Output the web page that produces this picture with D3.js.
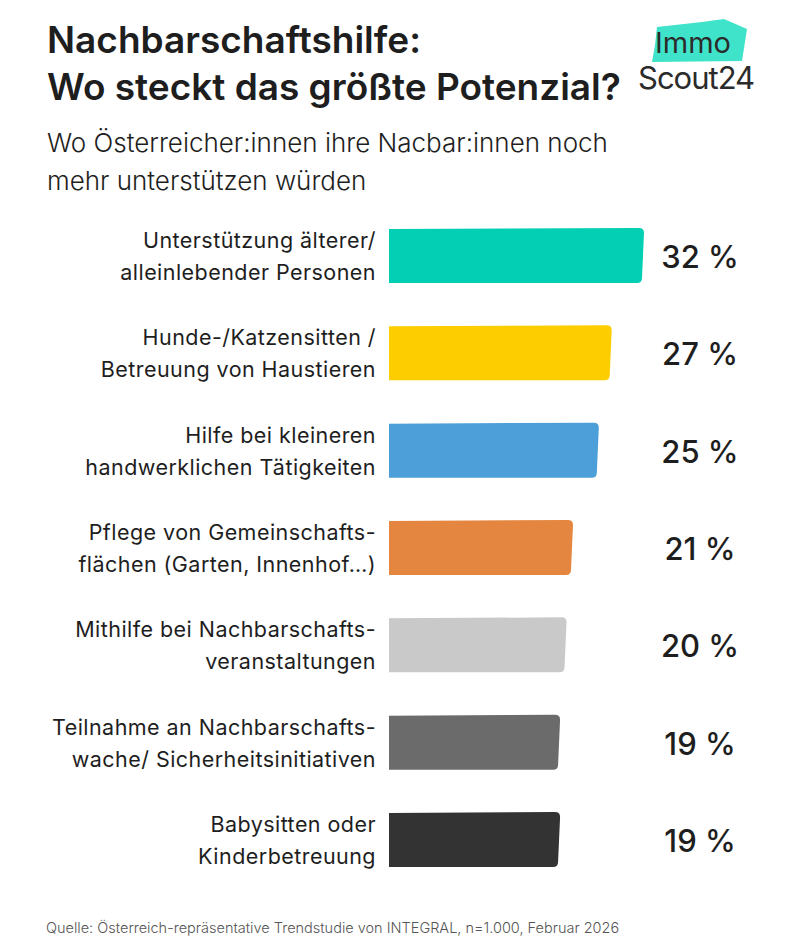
<!DOCTYPE html>
<html>
<head>
<meta charset="utf-8">
<script src="https://cdn.jsdelivr.net/npm/d3@7/dist/d3.min.js"></script>
<style>
  body { margin: 0; background: #fff; }
  svg { display: block; font-family: Inter, "Noto Sans", sans-serif; }
</style>
</head>
<body>
<script>
// data
var categories = [
  "Unterstützung älterer/alleinlebender Personen",
  "Hunde-/Katzensitten / Betreuung von Haustieren",
  "Hilfe bei kleineren handwerklichen Tätigkeiten",
  "Pflege von Gemeinschaftsflächen (Garten, Innenhof…)",
  "Mithilfe bei Nachbarschaftsveranstaltungen",
  "Teilnahme an Nachbarschaftswache/ Sicherheitsinitiativen",
  "Babysitten oder Kinderbetreuung"
];
var labelLines = [
  ["Unterstützung älterer/", "alleinlebender Personen"],
  ["Hunde-/Katzensitten /", "Betreuung von Haustieren"],
  ["Hilfe bei kleineren", "handwerklichen Tätigkeiten"],
  ["Pflege von Gemeinschafts-", "flächen (Garten, Innenhof…)"],
  ["Mithilfe bei Nachbarschafts-", "veranstaltungen"],
  ["Teilnahme an Nachbarschafts-", "wache/ Sicherheitsinitiativen"],
  ["Babysitten oder", "Kinderbetreuung"]
];
var values = [32, 27, 25, 21, 20, 19, 19];
var barColors = ["#02cfb3", "#fecd00", "#4c9fd8", "#e48640", "#c9c9c9", "#6b6b6b", "#333333"];

var title = ["Nachbarschaftshilfe:", "Wo steckt das größte Potenzial?"];
var subtitle = ["Wo Österreicher:innen ihre Nacbar:innen noch", "mehr unterstützen würden"];
var source = "Quelle: Österreich-repräsentative Trendstudie von INTEGRAL, n=1.000, Februar 2026";

var width = 800, height = 950;
var barLeft = 389;

var svg = d3.select("body").append("svg")
    .attr("width", width)
    .attr("height", height);

// title + subtitle
svg.selectAll("text.title")
    .data(title)
  .enter().append("text")
    .attr("class", "title")
    .attr("x", 47)
    .attr("y", function(d, i) { return 53 + i * 47; })
    .style("font-size", "37px")
    .style("font-weight", 600)
    .style("fill", "#1e1e1e")
    .text(function(d) { return d; });

svg.selectAll("text.sub")
    .data(subtitle)
  .enter().append("text")
    .attr("class", "sub")
    .attr("x", 47)
    .attr("y", function(d, i) { return 152 + i * 38; })
    .style("font-size", "26px")
    .style("font-weight", 300)
    .style("fill", "#1e1e1e")
    .text(function(d) { return d; });

// logo
var logo = svg.append("g");
logo.append("path")
    .attr("d", "M657,27 L702,22 L724,19 L747,29 L742,61 L652,62 L655,45 Z")
    .style("fill", "#3fe3c9");
logo.append("text")
    .attr("x", 655).attr("y", 53)
    .style("font-size", "29px")
    .style("font-weight", 400)
    .style("fill", "#2b2b2b")
    .text("Immo");
logo.append("text")
    .attr("x", 638).attr("y", 89)
    .style("font-size", "31px")
    .style("font-weight", 400)
    .style("letter-spacing", "-1px")
    .style("fill", "#2b2b2b")
    .text("Scout24");

// scales
var x = d3.scaleLinear()
    .domain([-7.5, 32])
    .range([barLeft, 644]);

var y = d3.scaleBand()
    .domain(categories)
    .range([207.35, 888.65])
    .paddingInner(0.445)
    .paddingOuter(0.2225);

var rows = svg.selectAll("g.row")
    .data(categories)
  .enter().append("g")
    .attr("class", "row")
    .attr("transform", function(d) { return "translate(0," + y(d) + ")"; });

// bars, right end slightly rounded like a marker stroke
rows.append("path")
    .attr("d", function(d, i) {
      var x0 = x(-7.5), x1 = x(values[i]), h = y.bandwidth(), r = 5;
      return "M" + x0 + ",0" +
             " L" + (x1 - r) + ",-1" +
             " Q" + x1 + ",-1 " + x1 + "," + (r - 1) +
             " L" + (x1 - 2) + "," + (h - r) +
             " Q" + (x1 - 2) + "," + h + " " + (x1 - r - 2) + "," + h +
             " L" + x0 + "," + h + " Z";
    })
    .style("fill", function(d, i) { return barColors[i]; });

// category labels
rows.each(function(d, i) {
  var g = d3.select(this);
  var c = y.bandwidth() / 2;
  g.selectAll("text.lab")
      .data(labelLines[i])
    .enter().append("text")
      .attr("class", "lab")
      .attr("x", 376)
      .attr("y", function(t, j) { return c - 8 + j * 32; })
      .attr("text-anchor", "end")
      .style("font-size", "21.5px")
      .style("font-weight", 400)
      .style("letter-spacing", "0.45px")
      .style("fill", "#1e1e1e")
      .text(function(t) { return t; });
});

// value labels
rows.append("text")
    .attr("x", 700)
    .attr("y", y.bandwidth() / 2 + 12)
    .attr("text-anchor", "middle")
    .style("font-size", "31px")
    .style("font-weight", 500)
    .style("fill", "#1e1e1e")
    .text(function(d, i) { return values[i] + " %"; });

// source
svg.append("text")
    .attr("x", 46)
    .attr("y", 933)
    .style("font-size", "14.5px")
    .style("font-weight", 300)
    .style("fill", "#555")
    .text(source);
</script>
</body>
</html>
